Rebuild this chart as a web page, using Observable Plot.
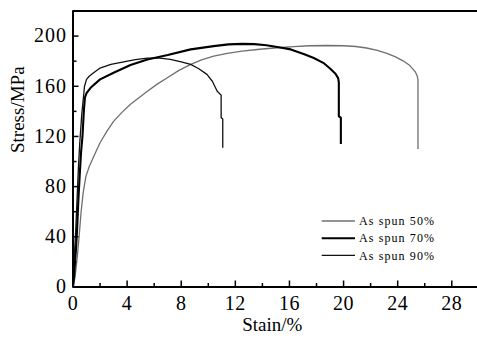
<!DOCTYPE html>
<html><head><meta charset="utf-8">
<script src="https://cdn.jsdelivr.net/npm/d3@7"></script>
<script src="https://cdn.jsdelivr.net/npm/@observablehq/plot@0.6"></script>
<style>
html,body{margin:0;padding:0;background:#fff;}
#chart{width:477px;height:338px;overflow:hidden;}
#chart svg{overflow:visible;}
#chart svg text{font-family:"Liberation Serif","Times New Roman",serif;}
#chart g[aria-label="y-axis tick label"] text{letter-spacing:1px;}
#chart g[aria-label="x-axis tick label"] text{letter-spacing:0.5px;}
</style></head><body><div id="chart"></div>
<script>
const seriesNames = ["As spun 50%", "As spun 70%", "As spun 90%"];
const seriesColors = ["#6f6f6f", "#000000", "#111111"];
const seriesWidths = [1.3, 2.1, 1.3];

const strain50 = [0, 0.15, 0.3, 0.45, 0.6, 0.75, 0.95, 1.2, 1.45, 1.7, 2.0, 2.5, 3.0, 3.6, 4.25, 4.9, 5.5, 6.2, 7.0, 7.8, 8.7, 9.5, 10.4, 11.4, 12.5, 13.8, 15.1, 16.3, 17.5, 18.8, 20.0, 20.9, 21.7, 22.5, 23.2, 23.8, 24.4, 24.9, 25.3, 25.45, 25.5, 25.5];
const stress50 = [0, 8, 22, 40, 60, 75, 88, 96, 102, 108, 115, 124, 132, 139, 145.6, 151, 156, 161.5, 167, 172.5, 177.4, 181, 184, 186.2, 188, 189.5, 190.7, 191.6, 192.3, 192.5, 192.3, 191.7, 190.5, 188.6, 186.2, 183.6, 180.3, 176.5, 171.5, 168, 165, 110];

const strain70 = [0, 0.08, 0.15, 0.22, 0.3, 0.4, 0.5, 0.6, 0.7, 0.8, 0.88, 1.0, 1.3, 2.0, 3.0, 4.25, 5.5, 7.0, 8.7, 10.4, 11.5, 12.5, 13.4, 14.3, 15.1, 16.1, 17.1, 17.8, 18.5, 19.0, 19.4, 19.6, 19.65, 19.65, 19.8, 19.8];
const stress70 = [0, 8, 20, 30, 45, 70, 90, 108, 120, 140, 151, 154.5, 158.8, 165.5, 170.8, 177, 181.4, 185, 189.4, 192, 193.4, 193.8, 193.6, 192.7, 191.3, 189.4, 185.6, 182.5, 178.7, 174.2, 170, 166.5, 163, 136, 135, 114];

const strain90 = [0, 0.05, 0.1, 0.15, 0.2, 0.3, 0.4, 0.5, 0.65, 0.78, 0.85, 1.0, 1.2, 1.5, 2.0, 2.8, 3.75, 4.6, 5.5, 6.4, 7.2, 8.0, 8.7, 9.3, 9.9, 10.3, 10.66, 10.9, 10.95, 10.95, 11.07, 11.07];
const stress90 = [0, 12, 25, 35, 45, 70, 95, 115, 138, 152, 160, 165.5, 168, 170.5, 174.5, 177.5, 179.5, 181.3, 182.5, 182.5, 181.4, 179.5, 177.4, 174, 169.5, 164, 156, 153.5, 153, 135, 134, 111];

const xDomain = [0, 29.9];
const yDomain = [0, 220];
const xTicks = [0, 4, 8, 12, 16, 20, 24, 28];
const xMinorTicks = [2, 6, 10, 14, 18, 22, 26];
const yTicks = [0, 40, 80, 120, 160, 200];
const yMinorTicks = [20, 60, 100, 140, 180];
const xTitle = "Stain/%";
const yTitle = "Stress/MPa";

const toRows = (xs, ys) => xs.map((x, i) => ({strain: x, stress: ys[i]}));
const rows50 = toRows(strain50, stress50);
const rows70 = toRows(strain70, stress70);
const rows90 = toRows(strain90, stress90);

const lineOpts = (k) => ({x: "strain", y: "stress", stroke: seriesColors[k], strokeWidth: seriesWidths[k], strokeLinejoin: "miter", strokeLinecap: "butt"});

const plot = Plot.plot({
  width: 477,
  height: 338,
  marginLeft: 72.5,
  marginRight: 0,
  marginTop: 10.5,
  marginBottom: 51.5,
  style: {fontFamily: '"Liberation Serif", "Times New Roman", serif', background: "white", color: "black"},
  x: {domain: xDomain},
  y: {domain: yDomain},
  marks: [
    Plot.line(rows50, lineOpts(0)),
    Plot.line(rows90, lineOpts(2)),
    Plot.line(rows70, lineOpts(1)),
    Plot.ruleX(xTicks, {x: d => d, y1: () => yDomain[0], y2: () => yDomain[0], insetTop: -6, stroke: "black", strokeWidth: 1.5}),
    Plot.ruleX(xMinorTicks, {x: d => d, y1: () => yDomain[0], y2: () => yDomain[0], insetTop: -3.5, stroke: "black", strokeWidth: 1.5}),
    Plot.ruleY(yTicks, {y: d => d, x1: () => xDomain[0], x2: () => xDomain[0], insetRight: -6, stroke: "black", strokeWidth: 1.5}),
    Plot.ruleY(yMinorTicks, {y: d => d, x1: () => xDomain[0], x2: () => xDomain[0], insetRight: -4, stroke: "black", strokeWidth: 1.5}),
    Plot.ruleY([yDomain[0]], {stroke: "black", strokeWidth: 2}),
    Plot.ruleY([yDomain[1]], {stroke: "black", strokeWidth: 2}),
    Plot.ruleX([xDomain[0]], {stroke: "black", strokeWidth: 2}),
    Plot.axisX(xTicks, {tickSize: 0, tickPadding: 9, fontSize: 20, label: null}),
    Plot.axisY(yTicks, {tickSize: 0, tickPadding: 6, fontSize: 20, label: null}),
    Plot.text([yTitle], {frameAnchor: "left", dx: -55, dy: 4, rotate: -90, fontSize: 19, text: d => d, fill: "black"}),
    Plot.text([xTitle], {frameAnchor: "bottom", dx: -3, dy: 43.5, fontSize: 19, text: d => d, fill: "black"})
  ]
});

document.getElementById("chart").appendChild(plot);

// legend (inside plot area, lower right)
const svg = d3.select(plot);
const legend = svg.append("g").attr("aria-label", "legend").attr("text-anchor", "start");
const legX0 = 321.7, legX1 = 355, legTextX = 359, legY0 = 221, legDy = 17.2;
seriesNames.forEach((name, i) => {
  const y = legY0 + i * legDy;
  legend.append("line").attr("x1", legX0).attr("x2", legX1).attr("y1", y).attr("y2", y)
    .attr("stroke", seriesColors[i]).attr("stroke-width", seriesWidths[i]);
  legend.append("text").attr("x", legTextX).attr("y", y).attr("dy", "0.35em")
    .attr("text-anchor", "start")
    .attr("font-size", 12).attr("letter-spacing", "1.1px").attr("fill", "black").text(name);
});
</script></body></html>
